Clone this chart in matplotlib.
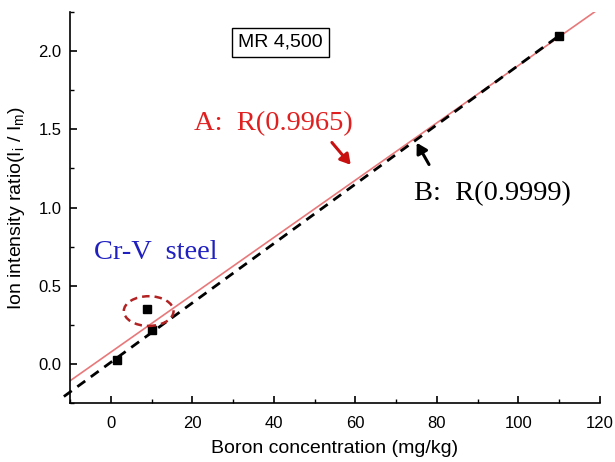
import matplotlib
matplotlib.use("Agg")
import matplotlib.pyplot as plt
import numpy as np
from matplotlib.patches import Ellipse

# data
conc = [1.5, 9.0, 10.2, 110.0]
ratio = [0.025, 0.35, 0.215, 2.10]
fitA = (0.01834, 0.075)   # slope, intercept
fitB = (0.0190, 0.010)
xlim = (-10, 120)
ylim = (-0.25, 2.25)
xticks = [0, 20, 40, 60, 80, 100, 120]
yticks = [0.0, 0.5, 1.0, 1.5, 2.0]

plt.rcParams['font.family'] = ['Liberation Sans', 'DejaVu Sans']

fig = plt.figure(figsize=(6.15, 4.62), dpi=100)
ax = fig.add_axes([0.1138, 0.1277, 0.8618, 0.846])

xa = np.array(xlim)
ax.plot(xa, fitA[0] * xa + fitA[1], color='#e8787a', lw=1.2, zorder=2)
xb = np.array([-11.5, 110.0])
ax.plot(xb, fitB[0] * xb + fitB[1], color='black', lw=2.0, ls=(0, (3.5, 2.5)),
        zorder=3, clip_on=False)
ax.plot(conc, ratio, 's', color='black', ms=6, zorder=4)

ax.add_patch(Ellipse((9.3, 0.338), 12.2, 0.19, fill=False, ec='#b22222',
                     lw=1.8, ls=(0, (3, 2)), zorder=5))

ax.set_xlim(*xlim)
ax.set_ylim(*ylim)
ax.set_xticks(xticks)
ax.set_yticks(yticks)
ax.set_xticks(np.arange(-10, 121, 10), minor=True)
ax.set_yticks(np.arange(-0.25, 2.26, 0.25), minor=True)
ax.tick_params(which='major', direction='in', length=5, width=1.2, labelsize=12)
ax.tick_params(which='minor', direction='in', length=3, width=1.0)
ax.tick_params(axis='y', which='major', pad=6)
ax.tick_params(axis='x', which='major', pad=9)
ax.set_yticklabels([f"{v:.1f}" for v in yticks])
ax.spines['top'].set_visible(False)
ax.spines['right'].set_visible(False)
for s in ('left', 'bottom'):
    ax.spines[s].set_linewidth(1.2)

ax.set_xlabel('Boron concentration (mg/kg)', fontsize=14, labelpad=7)
ax.set_ylabel(r'Ion intensity ratio(I$_\mathregular{i}$ / I$_\mathregular{m}$)',
              fontsize=14, labelpad=8)

ax.text(41.6, 2.057, 'MR 4,500', fontsize=14, ha='center', va='center',
        bbox=dict(boxstyle='square,pad=0.3', fc='white', ec='black', lw=1.0))

serif = ['Liberation Serif', 'DejaVu Serif']
ax.text(39.8, 1.535, 'A:  R(0.9965)', color='#e02020', fontsize=20.5,
        family=serif, ha='center', va='center')
ax.text(93.5, 1.09, 'B:  R(0.9999)', color='black', fontsize=20.5,
        family=serif, ha='center', va='center')
ax.text(11.0, 0.713, 'Cr-V  steel', color='#2020c0', fontsize=20.5,
        family=serif, ha='center', va='center')

ax.annotate('', xy=(59.3, 1.26), xytext=(53.8, 1.43),
            arrowprops=dict(arrowstyle='-|>,head_length=0.6,head_width=0.35',
                            color='#c81010', lw=2.2))
ax.annotate('', xy=(74.7, 1.43), xytext=(78.4, 1.26),
            arrowprops=dict(arrowstyle='-|>,head_length=0.6,head_width=0.35',
                            color='black', lw=2.2))

fig.savefig('out.png', dpi=100)
